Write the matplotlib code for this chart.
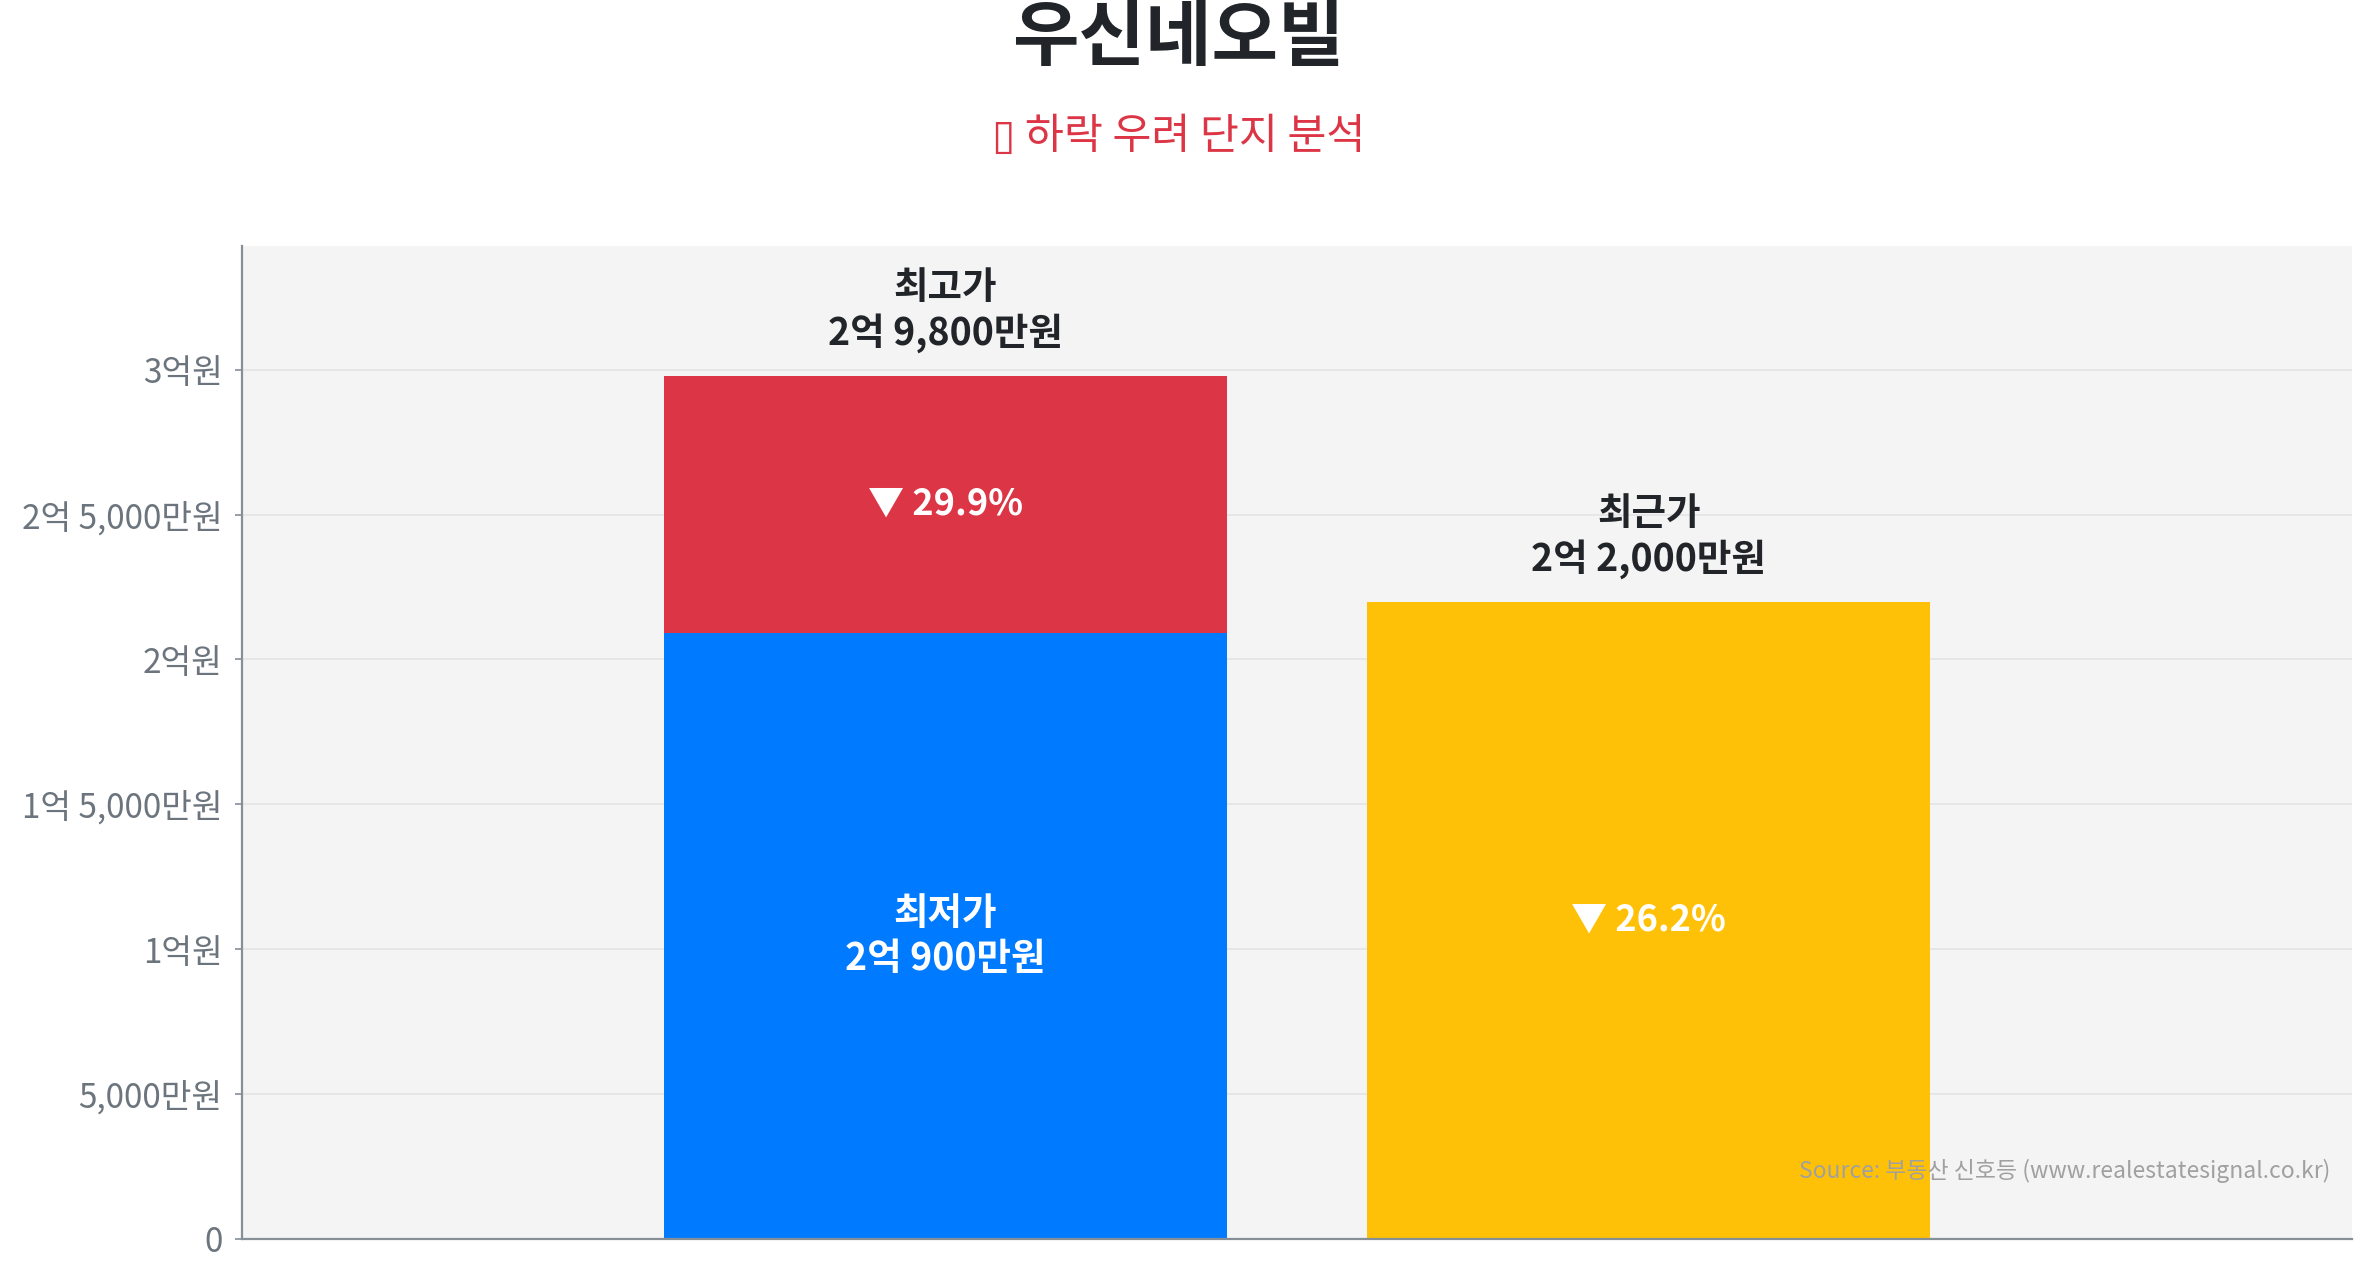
import matplotlib
matplotlib.use("Agg")
import matplotlib.pyplot as plt
from matplotlib.ticker import FixedLocator, FuncFormatter

plt.rcParams['font.family'] = ['Noto Sans CJK KR', 'DejaVu Sans']

# ---- data (unit: 만원) ----
title = "우신네오빌"
subtitle = "▯ 하락 우려 단지 분석"
source = "Source: 부동산 신호등 (www.realestatesignal.co.kr)"
label_low = "최저가"
label_high = "최고가"
label_recent = "최근가"
price_low = 20900
price_high = 29800
price_recent = 22000
y_ticks = [0, 5000, 10000, 15000, 20000, 25000, 30000]

COL_BLUE = "#007bff"
COL_RED = "#dc3545"
COL_YELLOW = "#ffc107"
COL_DARK = "#212529"
COL_GRAY = "#6c757d"


def fmt_won(v):
    v = int(round(v))
    if v == 0:
        return "0"
    eok, man = divmod(v, 10000)
    parts = []
    if eok:
        parts.append(f"{eok}억")
    if man:
        parts.append(f"{man:,}만원")
    else:
        parts[-1] = parts[-1] + "원"
    return " ".join(parts)


fig = plt.figure(figsize=(23.57, 12.68), dpi=100)
ax = fig.add_axes([242 / 2357, 1 - 1239 / 1268, (2352 - 242) / 2357, (1239 - 246) / 1268])
ax.set_facecolor("#f4f4f4")

x_main, x_recent = 1, 2
w = 0.8
ax.bar(x_main, price_low, width=w, color=COL_BLUE, zorder=2)
ax.bar(x_main, price_high - price_low, bottom=price_low, width=w, color=COL_RED, zorder=2)
ax.bar(x_recent, price_recent, width=w, color=COL_YELLOW, zorder=2)

ax.set_xlim(0, 3)
ax.set_ylim(0, price_high * 1.15)
ax.yaxis.set_major_locator(FixedLocator(y_ticks))
ax.yaxis.set_major_formatter(FuncFormatter(lambda v, p: fmt_won(v)))
ax.set_xticks([])
ax.grid(axis="y", color="#e4e4e4", linewidth=1.2, zorder=0)
ax.set_axisbelow(True)
for s in ["top", "right"]:
    ax.spines[s].set_visible(False)
for s in ["left", "bottom"]:
    ax.spines[s].set_color("#868e96")
    ax.spines[s].set_linewidth(1.6)
ax.tick_params(axis="y", colors="#868e96", labelcolor=COL_GRAY, labelsize=24,
               length=5, width=1.2, pad=9)

# labels above bars
ax.annotate(f"{label_high}\n{fmt_won(price_high)}", xy=(x_main, price_high),
            xytext=(0, 16), textcoords="offset points", ha="center", va="bottom",
            fontsize=27, fontweight="bold", color=COL_DARK, linespacing=1.2)
ax.annotate(f"{label_recent}\n{fmt_won(price_recent)}", xy=(x_recent, price_recent),
            xytext=(0, 16), textcoords="offset points", ha="center", va="bottom",
            fontsize=27, fontweight="bold", color=COL_DARK, linespacing=1.2)

# inside labels
drop_high = (price_high - price_low) / price_high * 100
drop_recent = (price_high - price_recent) / price_high * 100
ax.text(x_main, (price_low + price_high) / 2, f"▼ {drop_high:.1f}%", ha="center", va="center",
        fontsize=26, fontweight="bold", color="white", zorder=3)
ax.text(x_main, price_low / 2, f"{label_low}\n{fmt_won(price_low)}", ha="center", va="center",
        fontsize=27, fontweight="bold", color="white", linespacing=1.2, zorder=3)
ax.text(x_recent, price_recent / 2, f"▼ {drop_recent:.1f}%", ha="center", va="center",
        fontsize=26, fontweight="bold", color="white", zorder=3)

ax.text(0.9896, 0.069, source, transform=ax.transAxes, ha="right", va="center",
        fontsize=16.5, color="#a0a0a0", zorder=4)

fig.text(0.5, 1 - 39 / 1268, title, ha="center", va="center", fontsize=52,
         fontweight="bold", color=COL_DARK)
fig.text(0.5, 1 - 137 / 1268, subtitle, ha="center", va="center", fontsize=30.5,
         color=COL_RED)

fig.savefig("out.png", dpi=100, facecolor="white")
